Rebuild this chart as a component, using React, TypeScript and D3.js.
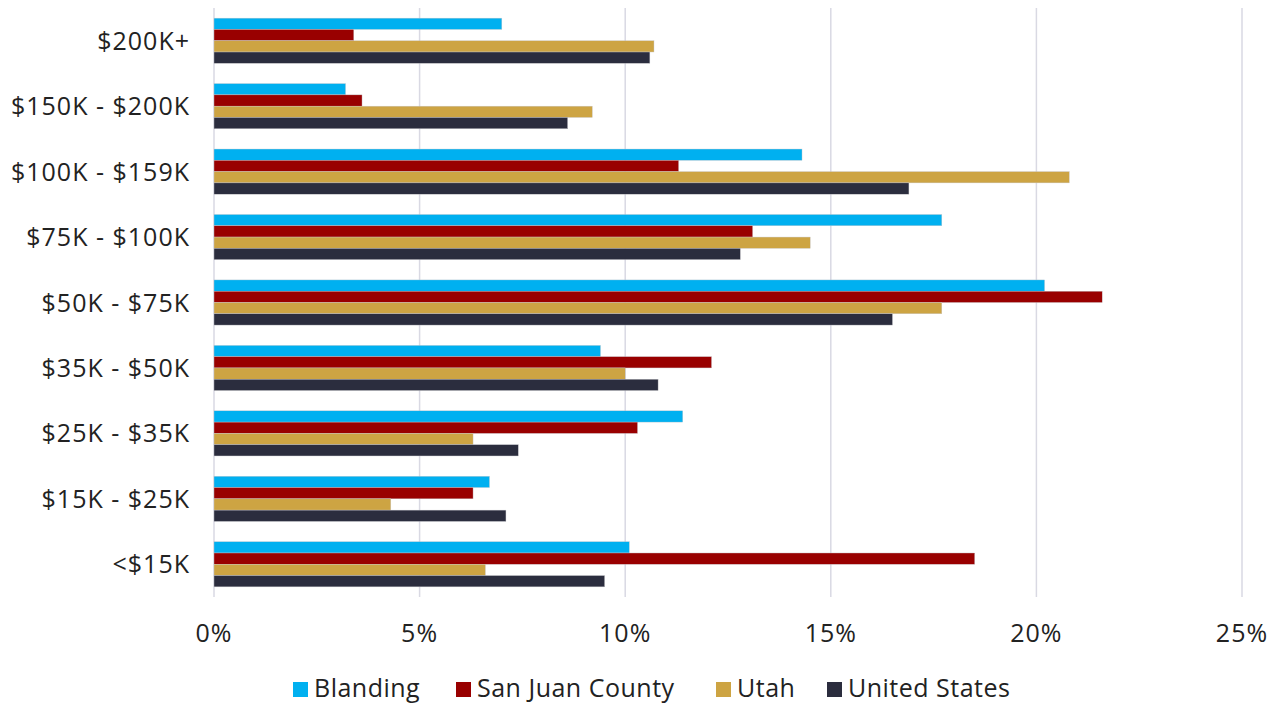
import React from "react";
import * as d3 from "d3";

const categories = ["$200K+", "$150K - $200K", "$100K - $159K", "$75K - $100K", "$50K - $75K", "$35K - $50K", "$25K - $35K", "$15K - $25K", "<$15K"];
const seriesNames = ["Blanding", "San Juan County", "Utah", "United States"];
const blanding = [7.0, 3.2, 14.3, 17.7, 20.2, 9.4, 11.4, 6.7, 10.1];
const sanJuan = [3.4, 3.6, 11.3, 13.1, 21.6, 12.1, 10.3, 6.3, 18.5];
const utah = [10.7, 9.2, 20.8, 14.5, 17.7, 10.0, 6.3, 4.3, 6.6];
const unitedStates = [10.6, 8.6, 16.9, 12.8, 16.5, 10.8, 7.4, 7.1, 9.5];
const xTicks = [0, 5, 10, 15, 20, 25];
const colors = ["#00B0F0", "#990000", "#CDA443", "#2B2D3E"];

const W = 1281, H = 707;
const FONT = "'Open Sans', 'Noto Sans', sans-serif";

export default function App() {
  const series = [blanding, sanJuan, utah, unitedStates];
  const x = d3.scaleLinear().domain([0, 25]).range([214, 1242]);
  const y = d3.scaleBand().domain(categories).range([8, 597]).paddingInner(0.31).paddingOuter(0.155);
  const inner = d3.scaleBand().domain(seriesNames).range([0, y.bandwidth()]);
  const legendX = [293, 456, 716, 827];
  return (
    <svg width={W} height={H} style={{ position: "absolute", left: 0, top: 0, background: "#fff" }} fontFamily={FONT}>
      {xTicks.map((t) => (
        <line key={"g" + t} x1={x(t)} x2={x(t)} y1={8} y2={597} stroke="#D9D9E3" strokeWidth={1.5} />
      ))}
      {categories.map((c, i) => (
        <g key={c}>
          {series.map((s, j) => (
            <rect key={j} x={x(0)} y={(y(c) as number) + (inner(seriesNames[j]) as number)} width={x(s[i]) - x(0)} height={inner.bandwidth()} fill={colors[j]} stroke="#c8c8cc" strokeWidth={0.4} />
          ))}
          <text x={190} y={(y(c) as number) + y.bandwidth() / 2} dy="0.36em" textAnchor="end" fontSize={25} letterSpacing={1} fill="#222">{c}</text>
        </g>
      ))}
      {xTicks.map((t) => (
        <text key={"t" + t} x={x(t)} y={642} textAnchor="middle" fontSize={25} letterSpacing={1} fill="#222">{t + "%"}</text>
      ))}
      {seriesNames.map((n, j) => (
        <g key={n}>
          <rect x={legendX[j]} y={682} width={15} height={15} fill={colors[j]} />
          <text x={legendX[j] + 21} y={697} fontSize={25} letterSpacing={0.5} fill="#222">{n}</text>
        </g>
      ))}
    </svg>
  );
}
